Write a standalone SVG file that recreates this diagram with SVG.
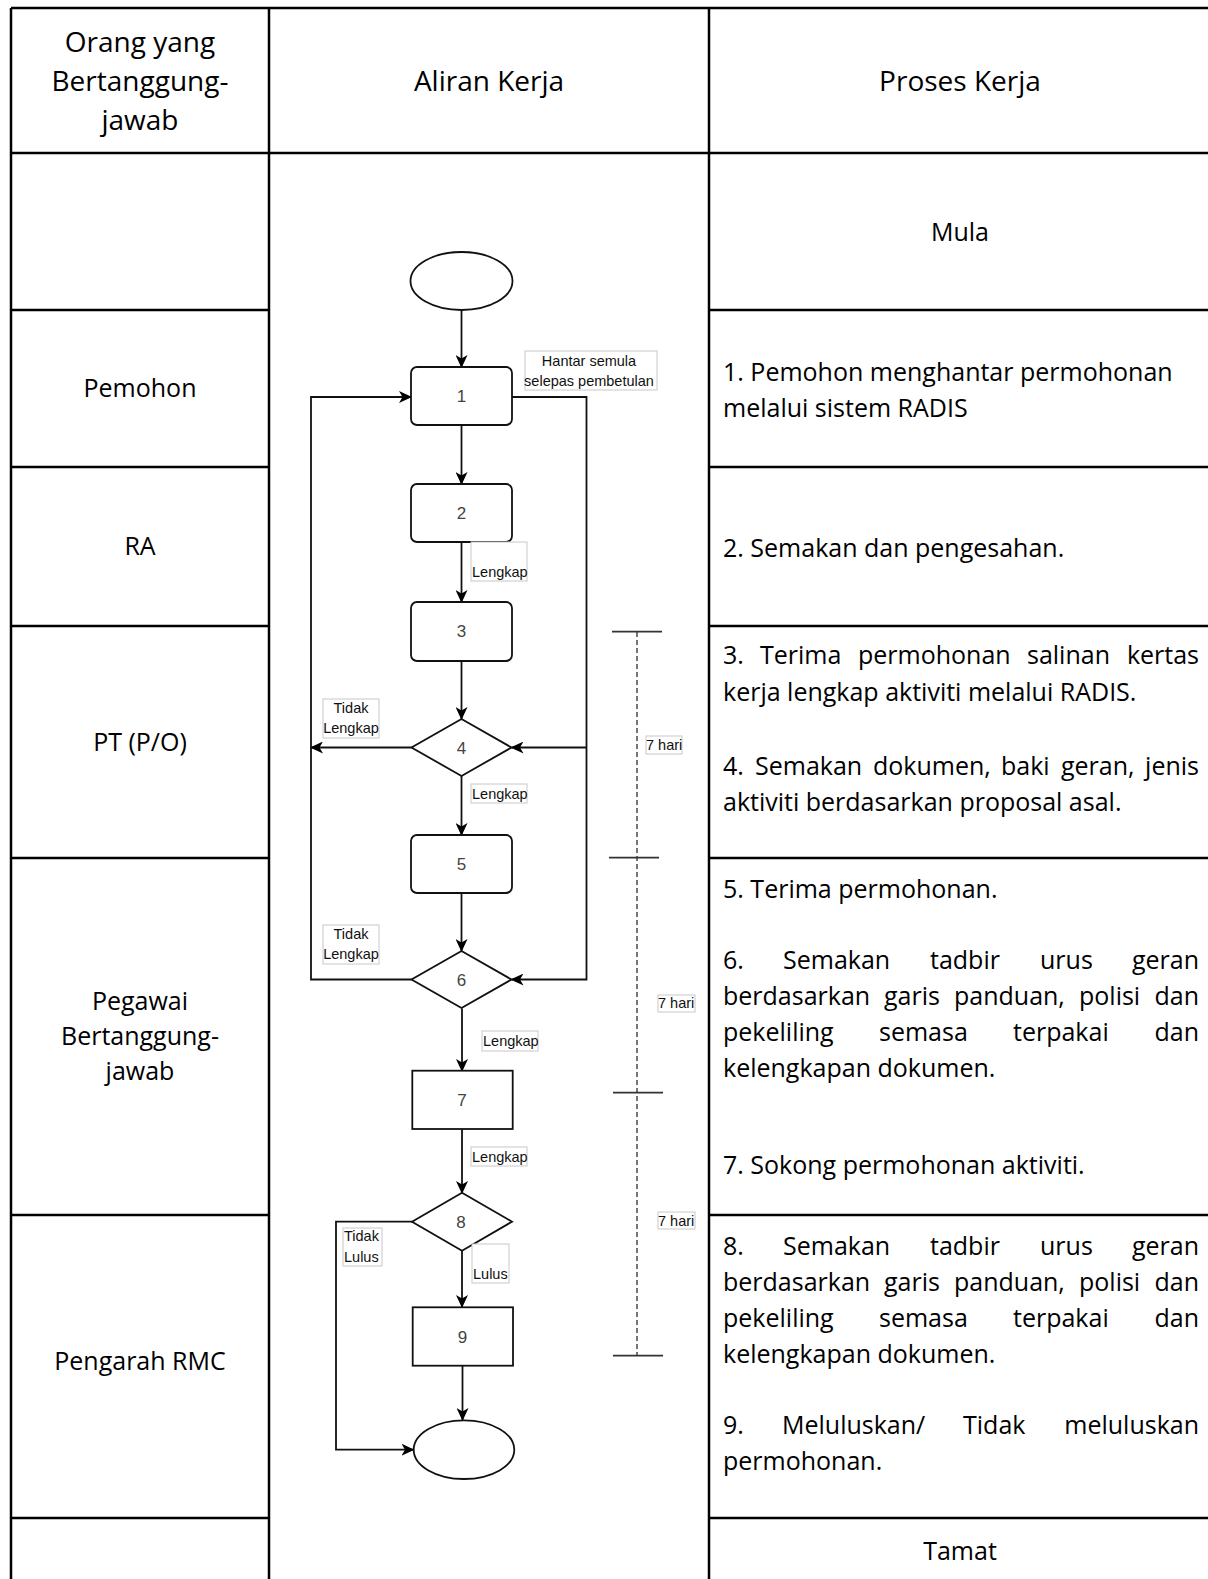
<svg xmlns="http://www.w3.org/2000/svg" width="1208" height="1579" viewBox="0 0 1208 1579">
<style>
.grid{stroke:#000;stroke-width:2.5;fill:none}
.hd{font-family:"Open Sans","Liberation Sans",sans-serif;font-size:28px;fill:#000}
.bd{font-family:"Open Sans","Liberation Sans",sans-serif;font-size:25px;fill:#000}
.c{text-anchor:middle}
.shape{fill:#fff;stroke:#111;stroke-width:1.8}
.num{font-family:"Liberation Sans",Arial,sans-serif;font-size:17px;fill:#444;text-anchor:middle}
.lbl{font-family:"Liberation Sans",Arial,sans-serif;font-size:14.5px;fill:#111}
.lblbox{fill:#fff;stroke:#c8c8c8;stroke-width:1}
.conn{fill:none;stroke:#111;stroke-width:1.8}
.tick{stroke:#333;stroke-width:1.8}
.dash{stroke:#666;stroke-width:1.8;stroke-dasharray:5 3}
</style>
<defs>
<marker id="arr" markerUnits="userSpaceOnUse" markerWidth="14" markerHeight="12" refX="12" refY="6" orient="auto">
<path d="M0,0 L13,6 L0,12 L3.5,6 z" fill="#000"/>
</marker>
</defs>
<rect width="1208" height="1579" fill="#fff"/>

<g id="table">
<path class="grid" d="M11,8 V1579 M269,8 V1579 M709,8 V1579 M11,8 H1208 M11,153 H1208"/>
<path class="grid" d="M11,310 H269 M11,467 H269 M11,626 H269 M11,858 H269 M11,1215 H269 M11,1518 H269"/>
<path class="grid" d="M709,310 H1208 M709,467 H1208 M709,626 H1208 M709,858 H1208 M709,1215 H1208 M709,1518 H1208"/>
</g>

<g id="header">
<text class="hd c" x="140" y="52">Orang yang</text>
<text class="hd c" x="140" y="91">Bertanggung-</text>
<text class="hd c" x="140" y="130">jawab</text>
<text class="hd c" x="489" y="91">Aliran Kerja</text>
<text class="hd c" x="960" y="91">Proses Kerja</text>
</g>

<g id="roles">
<text class="bd c" x="140" y="397">Pemohon</text>
<text class="bd c" x="140" y="555">RA</text>
<text class="bd c" x="140" y="751">PT (P/O)</text>
<text class="bd c" x="140" y="1010">Pegawai</text>
<text class="bd c" x="140" y="1045">Bertanggung-</text>
<text class="bd c" x="140" y="1080">jawab</text>
<text class="bd c" x="140" y="1370">Pengarah RMC</text>
</g>

<g id="process">
<text class="bd c" x="960" y="241">Mula</text>
<text class="bd" x="723" y="381">1. Pemohon menghantar permohonan</text>
<text class="bd" x="723" y="417">melalui sistem RADIS</text>
<text class="bd" x="723" y="557">2. Semakan dan pengesahan.</text>
<text class="bd" y="664"><tspan x="723">3.</tspan><tspan x="760">Terima</tspan><tspan x="858">permohonan</tspan><tspan x="1027">salinan</tspan><tspan x="1199" text-anchor="end">kertas</tspan></text>
<text class="bd" x="723" y="701">kerja lengkap aktiviti melalui RADIS.</text>
<text class="bd" y="775"><tspan x="723">4.</tspan><tspan x="755">Semakan</tspan><tspan x="873">dokumen,</tspan><tspan x="1001">baki</tspan><tspan x="1061">geran,</tspan><tspan x="1199" text-anchor="end">jenis</tspan></text>
<text class="bd" x="723" y="811">aktiviti berdasarkan proposal asal.</text>
<text class="bd" x="723" y="898">5. Terima permohonan.</text>
<text class="bd" y="969"><tspan x="723">6.</tspan><tspan x="783">Semakan</tspan><tspan x="930">tadbir</tspan><tspan x="1040">urus</tspan><tspan x="1199" text-anchor="end">geran</tspan></text>
<text class="bd" y="1005"><tspan x="723">berdasarkan</tspan><tspan x="884">garis</tspan><tspan x="954">panduan,</tspan><tspan x="1079">polisi</tspan><tspan x="1199" text-anchor="end">dan</tspan></text>
<text class="bd" y="1041"><tspan x="723">pekeliling</tspan><tspan x="879">semasa</tspan><tspan x="1013">terpakai</tspan><tspan x="1199" text-anchor="end">dan</tspan></text>
<text class="bd" x="723" y="1077">kelengkapan dokumen.</text>
<text class="bd" x="723" y="1174">7. Sokong permohonan aktiviti.</text>
<text class="bd" y="1255"><tspan x="723">8.</tspan><tspan x="783">Semakan</tspan><tspan x="930">tadbir</tspan><tspan x="1040">urus</tspan><tspan x="1199" text-anchor="end">geran</tspan></text>
<text class="bd" y="1291"><tspan x="723">berdasarkan</tspan><tspan x="884">garis</tspan><tspan x="954">panduan,</tspan><tspan x="1079">polisi</tspan><tspan x="1199" text-anchor="end">dan</tspan></text>
<text class="bd" y="1327"><tspan x="723">pekeliling</tspan><tspan x="879">semasa</tspan><tspan x="1013">terpakai</tspan><tspan x="1199" text-anchor="end">dan</tspan></text>
<text class="bd" x="723" y="1363">kelengkapan dokumen.</text>
<text class="bd" y="1434"><tspan x="723">9.</tspan><tspan x="782">Meluluskan/</tspan><tspan x="963">Tidak</tspan><tspan x="1199" text-anchor="end">meluluskan</tspan></text>
<text class="bd" x="723" y="1470">permohonan.</text>
<text class="bd c" x="960" y="1560">Tamat</text>
</g>

<g id="connectors">
<path class="conn" d="M461.5,310 V367" marker-end="url(#arr)"/>
<path class="conn" d="M461.5,426 V484" marker-end="url(#arr)"/>
<path class="conn" d="M461.5,542 V602" marker-end="url(#arr)"/>
<path class="conn" d="M461.5,661 V719" marker-end="url(#arr)"/>
<path class="conn" d="M411.5,747.5 H311" marker-end="url(#arr)"/>
<path class="conn" d="M461.5,776 V835" marker-end="url(#arr)"/>
<path class="conn" d="M461.5,893 V951" marker-end="url(#arr)"/>
<path class="conn" d="M411.5,979.5 H311 V397 H411" marker-end="url(#arr)"/>
<path class="conn" d="M512,397 H586.5 V979.5 H511.5" marker-end="url(#arr)"/>
<path class="conn" d="M586.5,747.5 H511.5" marker-end="url(#arr)"/>
<path class="conn" d="M462,1008.5 V1071" marker-end="url(#arr)"/>
<path class="conn" d="M462,1129 V1193" marker-end="url(#arr)"/>
<path class="conn" d="M462,1251 V1307" marker-end="url(#arr)"/>
<path class="conn" d="M462.5,1366 V1420" marker-end="url(#arr)"/>
<path class="conn" d="M412,1221.7 H336 V1449.7 H413.5" marker-end="url(#arr)"/>
</g>

<g id="timeline">
<line class="dash" x1="637" y1="632" x2="637" y2="1356"/>
<line class="tick" x1="612" y1="631.7" x2="662" y2="631.7"/>
<line class="tick" x1="609" y1="857.7" x2="659" y2="857.7"/>
<line class="tick" x1="613" y1="1092.7" x2="663" y2="1092.7"/>
<line class="tick" x1="613" y1="1355.7" x2="663" y2="1355.7"/>
</g>

<g id="start"><ellipse class="shape" cx="461.5" cy="281" rx="51" ry="29"/></g>
<g id="n1"><rect class="shape" x="411" y="367" width="101" height="58" rx="6"/><text class="num" x="461.5" y="402">1</text></g>
<g id="n2"><rect class="shape" x="411" y="484" width="101" height="58" rx="6"/><text class="num" x="461.5" y="519">2</text></g>
<g id="n3"><rect class="shape" x="411" y="602" width="101" height="59" rx="6"/><text class="num" x="461.5" y="637">3</text></g>
<g id="n4"><polygon class="shape" points="461.5,719 511.5,747.5 461.5,776 411.5,747.5"/><text class="num" x="461.5" y="754">4</text></g>
<g id="n5"><rect class="shape" x="411" y="835" width="101" height="58" rx="6"/><text class="num" x="461.5" y="870">5</text></g>
<g id="n6"><polygon class="shape" points="461.5,951 511.5,979.5 461.5,1008 411.5,979.5"/><text class="num" x="461.5" y="986">6</text></g>
<g id="n7"><rect class="shape" x="412.3" y="1070.7" width="100.4" height="58.3"/><text class="num" x="462" y="1106">7</text></g>
<g id="n8"><polygon class="shape" points="462,1192.7 512,1221.7 462,1250.7 412,1221.7"/><text class="num" x="461" y="1228">8</text></g>
<g id="n9"><rect class="shape" x="412.7" y="1307.3" width="100.3" height="58.4"/><text class="num" x="462.5" y="1343">9</text></g>
<g id="end"><ellipse class="shape" cx="464" cy="1449.7" rx="50.3" ry="29.3"/></g>

<g id="labels">
<rect class="lblbox" x="525" y="351" width="132" height="39"/>
<text class="lbl c" x="589" y="366">Hantar semula</text>
<text class="lbl c" x="589" y="386">selepas pembetulan</text>
<rect class="lblbox" x="471" y="542" width="56" height="39"/>
<text class="lbl" x="472" y="577">Lengkap</text>
<rect class="lblbox" x="323" y="699" width="56" height="39"/>
<text class="lbl c" x="351" y="713">Tidak</text>
<text class="lbl c" x="351" y="733">Lengkap</text>
<rect class="lblbox" x="471" y="784" width="56" height="19"/>
<text class="lbl" x="472" y="799">Lengkap</text>
<rect class="lblbox" x="323" y="925" width="56" height="39"/>
<text class="lbl c" x="351" y="939">Tidak</text>
<text class="lbl c" x="351" y="959">Lengkap</text>
<rect class="lblbox" x="482" y="1031" width="56" height="20"/>
<text class="lbl" x="483" y="1046">Lengkap</text>
<rect class="lblbox" x="471" y="1147" width="56" height="19"/>
<text class="lbl" x="472" y="1162">Lengkap</text>
<rect class="lblbox" x="343" y="1228" width="39" height="38"/>
<text class="lbl" x="344" y="1241">Tidak</text>
<text class="lbl" x="344" y="1262">Lulus</text>
<rect class="lblbox" x="472" y="1244" width="37" height="39"/>
<text class="lbl" x="473" y="1279">Lulus</text>
<rect class="lblbox" x="646" y="736" width="36" height="18"/>
<text class="lbl" x="646" y="750">7 hari</text>
<rect class="lblbox" x="658" y="995" width="37" height="17"/>
<text class="lbl" x="658" y="1008">7 hari</text>
<rect class="lblbox" x="658" y="1212" width="37" height="17"/>
<text class="lbl" x="658" y="1226">7 hari</text>
</g>
</svg>
